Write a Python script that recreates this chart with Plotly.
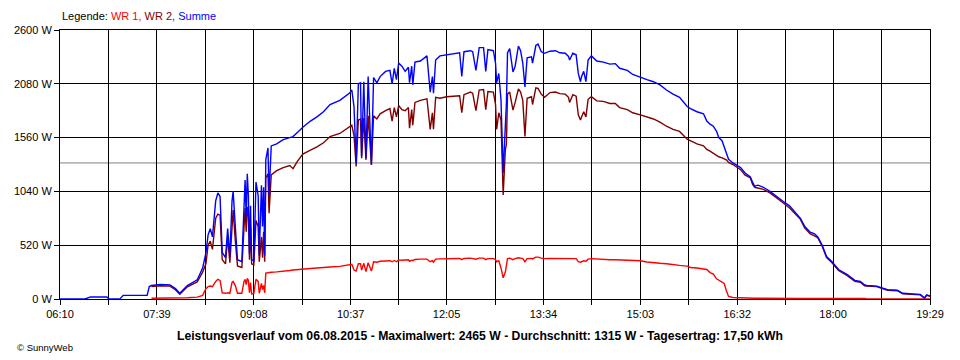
import plotly.graph_objects as go

# ---- data ----
times = [
    "06:10", "06:33", "06:38", "06:53", "06:55", "07:05", "07:08", "07:30", "07:32",
    "07:34", "07:42", "07:51", "07:56", "08:00", "08:07", "08:16", "08:21", "08:24",
    "08:26", "08:28", "08:30", "08:33", "08:35", "08:37", "08:39", "08:42", "08:44",
    "08:46", "08:48", "08:49", "08:51", "08:53", "08:57", "08:59", "09:00", "09:01",
    "09:02", "09:03", "09:04", "09:05", "09:06", "09:08", "09:10", "09:12", "09:13",
    "09:15", "09:16", "09:17", "09:18", "09:19", "09:21", "09:22", "09:24", "09:29",
    "09:35", "09:41", "09:44", "09:48", "09:53", "10:00", "10:06", "10:12", "10:18",
    "10:27", "10:36", "10:38", "10:40", "10:42", "10:44", "10:46", "10:47", "10:49",
    "10:51", "10:53", "10:56", "10:58", "11:01", "11:04", "11:09", "11:13", "11:15",
    "11:17", "11:19", "11:21", "11:24", "11:27", "11:30", "11:31", "11:33", "11:34",
    "11:36", "11:41", "11:47", "11:50", "11:52", "11:53", "11:55", "11:59", "12:05",
    "12:13", "12:17", "12:19", "12:21", "12:27", "12:29", "12:32", "12:35", "12:39",
    "12:41", "12:43", "12:48", "12:50", "12:51", "12:53", "12:55", "12:57", "12:59",
    "13:00", "13:01", "13:03", "13:06", "13:08", "13:11", "13:13", "13:15", "13:17",
    "13:19", "13:23", "13:24", "13:27", "13:29", "13:32", "13:35", "13:40", "13:45",
    "13:49", "13:54", "13:57", "13:58", "14:01", "14:04", "14:06", "14:08", "14:09",
    "14:11", "14:13", "14:15", "14:18", "14:23", "14:29", "14:35", "14:40", "14:44",
    "14:51", "14:56", "15:03", "15:09", "15:15", "15:21", "15:27", "15:33", "15:39",
    "15:46", "15:49", "15:55", "16:01", "16:04", "16:07", "16:10", "16:13", "16:15",
    "16:18", "16:20", "16:22", "16:24", "16:28", "16:35", "16:39", "16:44", "16:46",
    "16:48", "16:51", "16:56", "17:02", "17:08", "17:14", "17:20", "17:25", "17:30",
    "17:34", "17:39", "17:43", "17:46", "17:50", "17:54", "17:59", "18:05", "18:13",
    "18:20", "18:25", "18:29", "18:31", "18:40", "18:50", "18:59", "19:04", "19:20",
    "19:24", "19:26", "19:29",
]

wr1 = [
    None, None, None, None, None, None, None, None, None,
    7, 8, 8, 8, 10, 12, 18, 35, 100,
    120, 125, 120, 170, 190, 180, 60, 55, 60,
    55, 160, 170, 130, 55, 55, 170, 190, 140,
    200, 180, 60, 160, 50, 55, 190, 170, 55,
    150, 90, 130, 60, 250, 255, 250, 258, 262,
    265, 275, 280, 285, 290, 295, 300, 302, 310,
    315, 330, 335, 280, 270, 340, 340, 280, 345,
    265, 350, 270, 360, 355, 365, 368, 370, 360,
    372, 360, 378, 375, 378, 380, 365, 375, 370,
    382, 385, 385, 360, 370, 355, 385, 388, 390,
    392, 392, 380, 392, 395, 392, 385, 395, 395,
    380, 390, 390, 380, 360, 370, 300, 205, 260,
    310, 390, 395, 380, 390, 398, 395, 390, 360,
    390, 392, 388, 405, 405, 395, 390, 392, 392,
    390, 390, 388, 385, 390, 390, 360, 355, 360,
    370, 365, 385, 390, 385, 382, 380, 380, 378,
    378, 376, 370, 358, 355, 345, 340, 330, 325,
    318, 305, 300, 290, 285, 255, 240, 195, 180,
    160, 150, 80, 25, 15, 10, 8, 8, 7,
    7, 7, 6, 6, 6, 6, 6, 6, 6,
    6, 6, 6, 6, 6, 6, 6, 6, 6,
    8, 8, 5, 0, 0, 0, 0, 0, 0,
    0, 0, 0,
]

wr2 = [
    None, None, None, None, None, None, None, None, None,
    120, 128, 125, 90, 45, 118, 165, 260, 340,
    520, 560, 480, 780, 820, 810, 380, 340, 600,
    350, 780, 860, 560, 320, 305, 720, 880, 650,
    890, 800, 380, 700, 340, 330, 760, 700, 360,
    600, 400, 650, 360, 1170, 1210, 830, 1200, 1240,
    1270, 1290, 1260, 1330, 1400, 1440, 1470, 1510, 1570,
    1600, 1660, 1680, 1580, 1280, 1730, 1740, 1360, 1750,
    1345, 1770, 1295, 1770, 1740, 1790, 1820, 1840, 1720,
    1850, 1760, 1870, 1830, 1820, 1850, 1650, 1830, 1680,
    1900, 1920, 1935, 1640, 1800, 1640, 1950, 1940, 1955,
    1960, 1965, 1800, 1975, 2000, 1990, 1820, 2020, 2025,
    1830, 2005, 2000, 1880, 1640, 1800, 1730, 1005, 1440,
    1500, 1980, 2000, 1825, 1900, 2030, 2000, 1920, 1570,
    1940, 1955, 1880, 2040, 2035, 1980, 1950, 1995, 2000,
    1985, 1980, 1950, 1900, 1975, 1960, 1780, 1730, 1760,
    1810, 1760, 1930, 1955, 1915, 1910, 1890, 1890, 1850,
    1830, 1800, 1780, 1760, 1740, 1710, 1670, 1640, 1620,
    1545, 1530, 1500, 1480, 1445, 1430, 1410, 1390, 1375,
    1365, 1355, 1345, 1320, 1300, 1250, 1200, 1170, 1110,
    1080, 1075, 1060, 1025, 980, 930, 880, 820, 770,
    685, 630, 610, 590, 510, 400, 350, 275, 225,
    170, 162, 128, 125, 120, 85, 80, 50, 40,
    10, 35, 25,
]

summe = [
    0, 0, 20, 20, 0, 0, 35, 35, 120,
    130, 140, 135, 100, 55, 130, 185, 300, 445,
    620, 680, 600, 950, 1025, 990, 450, 400, 680,
    410, 950, 1040, 700, 380, 360, 900, 1150, 800,
    1210, 1000, 440, 900, 380, 370, 1130, 1000, 420,
    1100, 700, 1080, 420, 1345, 1460, 1000, 1480, 1500,
    1540, 1560, 1570, 1610, 1660, 1720, 1760, 1810, 1880,
    1920, 1990, 2020, 1860, 1315, 2080, 2090, 1380, 2100,
    1360, 2150, 1300, 2140, 2090, 2150, 2200, 2210, 2080,
    2230, 2120, 2280, 2250, 2200, 2240, 2090, 2250, 2070,
    2290, 2300, 2350, 2000, 2150, 1990, 2310, 2350, 2360,
    2370, 2380, 2150, 2390, 2400, 2390, 2210, 2430, 2430,
    2200, 2410, 2400, 2280, 2090, 2180, 1925, 1220, 1700,
    1900, 2380, 2420, 2195, 2250, 2445, 2400, 2280, 2050,
    2330, 2340, 2280, 2450, 2465, 2390, 2375, 2395, 2400,
    2380, 2375, 2345, 2310, 2375, 2360, 2180, 2100, 2150,
    2200, 2100, 2310, 2350, 2300, 2290, 2270, 2275, 2230,
    2210, 2170, 2140, 2120, 2100, 2070, 2020, 1980, 1950,
    1860, 1840, 1810, 1790, 1720, 1690, 1670, 1620, 1560,
    1530, 1470, 1420, 1350, 1315, 1270, 1220, 1180, 1130,
    1090, 1100, 1080, 1040, 990, 945, 900, 840, 780,
    700, 645, 630, 600, 520, 410, 360, 285, 235,
    180, 170, 135, 130, 125, 90, 85, 55, 45,
    10, 40, 30,
]

tick_labels = ["06:10", "07:39", "09:08", "10:37", "12:05",
               "13:34", "15:03", "16:32", "18:00", "19:29"]
y_tick_values = [0, 520, 1040, 1560, 2080, 2600]

datum = "06.08.2015"
maximalwert = 2465
durchschnitt = 1315
tagesertrag = "17,50"

series_names = ["WR 1", "WR 2", "Summe"]
series_colors = ["#FF0000", "#800000", "#0000FF"]


def to_minutes(s):
    h, m = s.split(":")
    return int(h) * 60 + int(m)


x = [to_minutes(t) for t in times]
major = [to_minutes(t) for t in tick_labels]
minor = [(a + b) / 2 for a, b in zip(major[:-1], major[1:])]

fig = go.Figure()
for name, vals, col in zip(series_names, [wr1, wr2, summe], series_colors):
    fig.add_trace(go.Scatter(
        x=x, y=vals, name=name, mode="lines",
        line=dict(color=col, width=1.4), connectgaps=False,
        hoverinfo="skip"))

font_family = "Arial, Liberation Sans, sans-serif"

fig.add_shape(type="line", xref="paper", x0=0, x1=1, yref="y",
              y0=durchschnitt, y1=durchschnitt,
              line=dict(color="#808080", width=1), layer="below")

# the page body adds an 8px margin, so the figure is sized/offset to compensate
fig.update_layout(
    template="none",
    width=952, height=352,
    margin=dict(l=52, r=30, t=22, b=61, autoexpand=False),
    paper_bgcolor="white", plot_bgcolor="white",
    showlegend=False,
    font=dict(family=font_family, size=11, color="black"),
    xaxis=dict(
        automargin=False,
        range=[major[0], major[-1]],
        tickmode="array", tickvals=major, ticktext=tick_labels,
        showgrid=True, gridcolor="black", gridwidth=1,
        ticks="outside", ticklen=5, tickcolor="black", tickwidth=1,
        showline=True, linecolor="black", linewidth=1, mirror=True,
        zeroline=False,
        minor=dict(tickmode="array", tickvals=minor, showgrid=True,
                   gridcolor="black", gridwidth=1,
                   ticks="outside", ticklen=5, tickcolor="black"),
        tickfont=dict(size=11, color="black"),
    ),
    yaxis=dict(
        automargin=False,
        range=[0, 2600],
        tickmode="array", tickvals=y_tick_values,
        ticktext=[f"{v} W" for v in y_tick_values],
        showgrid=True, gridcolor="black", gridwidth=1,
        ticks="outside", ticklen=5, tickcolor="black", tickwidth=1,
        showline=True, linecolor="black", linewidth=1, mirror=True,
        zeroline=False,
        tickfont=dict(size=11, color="black"),
    ),
)

legend_html = ("Legende: "
               + f"<span style='color:{series_colors[0]}'>{series_names[0]}, </span>"
               + f"<span style='color:{series_colors[1]}'>{series_names[1]}, </span>"
               + f"<span style='color:{series_colors[2]}'>{series_names[2]}</span>")
fig.add_annotation(text=legend_html, xref="paper", yref="paper",
                   x=0, y=1.052, xanchor="left", yanchor="middle",
                   showarrow=False, font=dict(size=11, color="black"))

title = (f"<b>Leistungsverlauf vom {datum} - Maximalwert: {maximalwert} W - "
         f"Durchschnitt: {durchschnitt} W - Tagesertrag: {tagesertrag} kWh</b>")
fig.add_annotation(text=title, xref="paper", yref="paper",
                   x=0.4828, y=-0.1375, xanchor="center", yanchor="middle",
                   showarrow=False, font=dict(size=12.2, color="black"))

fig.add_annotation(text="© SunnyWeb", xref="paper", yref="paper",
                   x=-0.0517, y=-0.182, xanchor="left", yanchor="middle",
                   showarrow=False, font=dict(size=9.5, color="black"))

fig.write_html("out.html")
